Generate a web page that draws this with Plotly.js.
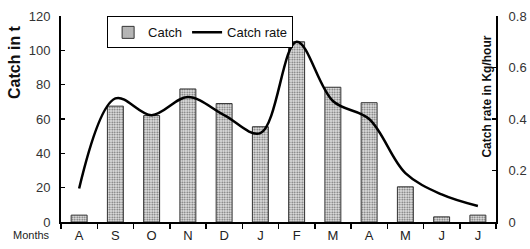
<!DOCTYPE html>
<html>
<head>
<meta charset="utf-8">
<script src="https://cdn.plot.ly/plotly-3.0.1.min.js"></script>
<style>
  html, body { margin: 0; padding: 0; background: #fff; }
  #chart { width: 530px; height: 249px; }
</style>
</head>
<body>
<div id="chart"></div>
<script>
// Data
const months = ["Aug", "Sep", "Oct", "Nov", "Dec", "Jan", "Feb", "Mar", "Apr", "May", "Jun", "Jul"];
const monthLabels = ["A", "S", "O", "N", "D", "J", "F", "M", "A", "M", "J", "J"];
const catchT = [4, 67.5, 62, 77.5, 69, 55.5, 105, 78.5, 69.5, 20.5, 3, 4];
const catchRate = [0.13, 0.48, 0.415, 0.485, 0.415, 0.345, 0.70, 0.47, 0.40, 0.19, 0.107, 0.062];

const FONT = "Liberation Sans, Arial, sans-serif";

const traces = [
  {
    type: "bar",
    name: "Catch",
    x: months,
    y: catchT,
    width: 0.44,
    marker: {
      color: "#d8d8d8",
      line: { color: "#333", width: 1 },
      pattern: { shape: ".", fgcolor: "#666", bgcolor: "#e6e6e6", size: 2.5, solidity: 0.4 }
    },
    yaxis: "y"
  },
  {
    type: "scatter",
    mode: "lines",
    name: "Catch rate",
    x: months,
    y: catchRate,
    line: { color: "#000", width: 2.5, shape: "spline", smoothing: 1 },
    yaxis: "y2"
  }
];

const layout = {
  width: 530,
  height: 249,
  margin: { l: 61, r: 34, t: 16, b: 26.5 },
  paper_bgcolor: "#fff",
  plot_bgcolor: "#fff",
  font: { family: FONT, size: 13, color: "#222" },
  showlegend: true,
  legend: {
    orientation: "h",
    x: 0.106, xanchor: "left",
    y: 0.998, yanchor: "top",
    bgcolor: "#fff",
    bordercolor: "#000",
    borderwidth: 1,
    font: { family: FONT, size: 13, color: "#111" },
    traceorder: "normal"
  },
  xaxis: {
    type: "category",
    tickmode: "array",
    tickvals: months,
    ticktext: monthLabels,
    tickangle: 0,
    tickson: "boundaries",
    ticks: "outside",
    ticklen: 5,
    tickwidth: 1.5,
    tickcolor: "#000",
    showline: true,
    linecolor: "#000",
    linewidth: 2,
    showgrid: false,
    zeroline: false,
    range: [-0.5, 11.5],
    tickfont: { family: FONT, size: 13, color: "#222" }
  },
  yaxis: {
    range: [0, 120],
    dtick: 20,
    ticks: "inside",
    ticklen: 4,
    tickwidth: 1.5,
    tickcolor: "#000",
    showline: true,
    linecolor: "#000",
    linewidth: 2,
    showgrid: false,
    zeroline: false,
    ticklabelstandoff: 6,
    tickfont: { family: FONT, size: 13, color: "#333" }
  },
  yaxis2: {
    overlaying: "y",
    side: "right",
    range: [0, 0.8],
    dtick: 0.2,
    ticks: "inside",
    ticklen: 4,
    tickwidth: 1.5,
    tickcolor: "#000",
    showline: true,
    linecolor: "#000",
    linewidth: 2,
    showgrid: false,
    zeroline: false,
    ticklabelstandoff: 8,
    tickfont: { family: FONT, size: 13, color: "#333" }
  },
  annotations: [
    {
      text: "<b>Catch in t</b>",
      xref: "paper", yref: "paper",
      x: -0.1057, y: 0.777,
      xanchor: "center", yanchor: "middle",
      textangle: -90, showarrow: false,
      font: { family: FONT, size: 16, color: "#111" }
    },
    {
      text: "<b>Catch rate in Kg/hour</b>",
      xref: "paper", yref: "paper",
      x: 0.979, y: 0.608,
      xanchor: "center", yanchor: "middle",
      textangle: -90, showarrow: false,
      font: { family: FONT, size: 12, color: "#111" }
    },
    {
      text: "Months",
      xref: "paper", yref: "paper",
      x: (31 - 61) / 435, y: (222.5 - 236) / 206.5,
      xanchor: "center", yanchor: "middle",
      showarrow: false,
      font: { family: FONT, size: 11, color: "#222" }
    }
  ]
};

Plotly.newPlot("chart", traces, layout, { displayModeBar: false, staticPlot: true });
</script>
</body>
</html>
